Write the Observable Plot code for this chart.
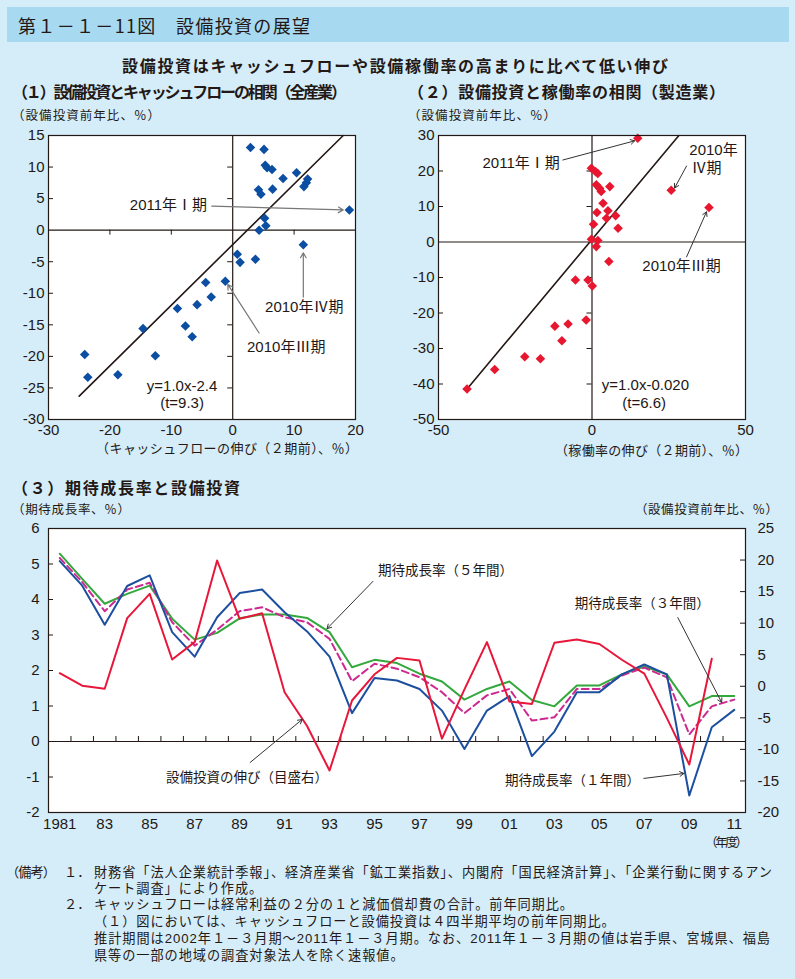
<!DOCTYPE html>
<html><head><meta charset="utf-8">
<script src="https://cdn.jsdelivr.net/npm/d3@7"></script>
<script src="https://cdn.jsdelivr.net/npm/@observablehq/plot@0.6"></script>
<style>
body{margin:0;background:#d5edf9;}
#page{position:relative;width:795px;height:979px;background:#d5edf9;overflow:hidden;font-family:"Noto Sans CJK JP","Liberation Sans",sans-serif;color:#231815;}
.t{position:absolute;white-space:nowrap;line-height:1;}
.chart{position:absolute;}
</style></head><body><div id="page"></div>
<script>
// ---------------- DATA ----------------
// Panel (1): cash-flow growth (2 quarters earlier) vs capex growth
const cfGrowth = [2.9, 5.1, 5.3, 5.6, 6.4, 8.2, 10.4, 12.2, 12.0, 11.6, 4.2, 4.6, 6.5, 19.0, 5.2, 5.4, 4.3, 11.5, 0.75, 1.2, 3.7, -4.4, -1.2, -3.5, -5.8, -9.0, -7.7, -6.6, -14.6, -12.6, -24.1, -23.6, -18.7];
const capex1   = [13.1, 12.8, 10.3, 9.9, 9.6, 8.2, 9.1, 8.1, 7.5, 6.9, 6.4, 5.7, 6.5, 3.2, 1.9, 0.7, 0.0, -2.3, -3.8, -5.1, -4.6, -8.3, -8.1, -10.6, -11.8, -12.4, -15.2, -16.9, -15.6, -19.9, -19.7, -23.3, -22.9];
const reg1X = [-25, 18.0];
const reg1Y = [-26.3, 15];
const p1XTicks = [-30, -20, -10, 0, 10, 20];
const p1YTicks = [15, 10, 5, 0, -5, -10, -15, -20, -25, -30];
const p1Labels = ["2011年Ⅰ期", "2010年Ⅳ期", "2010年Ⅲ期", "y=1.0x-2.4", "(t=9.3)"];
const p1LabelX = [-16.75, 5.27, 2.33, -8.25, -8.25];
const p1LabelY = [3.96, -12.2, -18.5, -24.8, -27.4];
const p1LabelAnchor = ["start", "start", "start", "middle", "middle"];
const p1ArrowX1 = [-3.4, 11.5, 4.3];
const p1ArrowY1 = [3.8, -10.6, -16.3];
const p1ArrowX2 = [18.0, 11.5, -0.8];
const p1ArrowY2 = [3.2, -3.6, -8.6];

// Panel (2): utilisation growth vs capex growth (manufacturing)
const utilGrowth = [14.9, -0.2, 1.2, 1.9, 1.4, 2.5, 3.0, 5.8, 3.6, 1.6, 5.2, 4.7, 7.7, 0.5, 8.5, -0.2, 1.9, 1.4, 5.5, 25.8, 38.1, -5.4, -1.3, 0.1, -12.1, -7.8, -9.8, -1.9, -21.9, -16.8, -31.7, -40.7];
const capex2     = [29.2, 20.8, 19.8, 19.3, 16.1, 15.1, 14.2, 15.6, 10.9, 8.3, 8.8, 6.7, 7.4, 5.0, 3.9, 0.8, 0.4, -1.3, -5.5, 14.6, 9.7, -10.7, -10.7, -12.4, -23.7, -23.1, -27.8, -22.0, -32.3, -32.9, -35.9, -41.4];
const reg2X = [-40.7, 28.3];
const reg2Y = [-41.4, 30];
const p2XTicks = [-50, 0, 50];
const p2YTicks = [30, 20, 10, 0, -10, -20, -30, -40, -50];
const p2Labels = ["2011年Ⅰ期", "2010年", "Ⅳ期", "2010年Ⅲ期", "y=1.0x-0.020", "(t=6.6)"];
const p2LabelX = [-10.5, 31.7, 32.4, 16.4, 17.4, 17.0];
const p2LabelY = [22.3, 25.9, 20.8, -6.8, -40.3, -45.4];
const p2LabelAnchor = ["end", "start", "start", "start", "middle", "middle"];
const p2ArrowX1 = [-9.5, 30.8, 30.8];
const p2ArrowY1 = [23.1, 21.4, -4.2];
const p2ArrowX2 = [13.9, 26.9, 37.3];
const p2ArrowY2 = [28.5, 15.2, 8.5];

// Panel (3): expected growth rates (left axis) and capex growth (right axis)
const years = d3.range(1981, 2012);
const exp5 = [5.29, 4.58, 3.88, 4.16, 4.39, 3.46, 2.87, 3.06, 3.47, 3.58, 3.58, 3.48, 3.08, 2.09, 2.30, 2.21, 1.91, 1.69, 1.18, 1.48, 1.69, 1.17, 0.99, 1.58, 1.58, 1.89, 2.11, 1.89, 0.99, 1.28, 1.28];
const exp3 = [5.17, 4.49, 3.67, 4.28, 4.47, 3.36, 2.70, 3.15, 3.67, 3.78, 3.50, 3.36, 2.89, 1.70, 2.19, 2.05, 1.81, 1.39, 0.80, 1.30, 1.48, 0.59, 0.68, 1.48, 1.48, 1.86, 2.08, 1.81, 0.20, 0.99, 1.18];
const exp1 = [5.08, 4.39, 3.29, 4.38, 4.68, 3.08, 2.39, 3.50, 4.18, 4.28, 3.64, 3.10, 2.39, 0.80, 1.79, 1.72, 1.48, 0.87, -0.21, 0.87, 1.28, -0.41, 0.28, 1.39, 1.39, 1.89, 2.17, 1.89, -1.52, 0.40, 0.89];
const capexGrowth = [2.07, 0.1, -0.4, 10.8, 14.65, 4.24, 6.99, 19.93, 10.69, 11.58, -0.94, -6.3, -13.35, -2.25, 1.9, 4.5, 4.1, -8.3, -0.5, 7.0, -2.4, -2.8, 6.9, 7.4, 6.7, 4.2, 2.0, -5.0, -12.4, 4.35, null];
const p3LeftTicks = [6, 5, 4, 3, 2, 1, 0, -1, -2];
const p3RightTicks = [25, 20, 15, 10, 5, 0, -5, -10, -15, -20];
const p3YearTicks = d3.range(1981, 2012, 2);
const p3Labels = ["期待成長率（５年間）", "期待成長率（３年間）", "期待成長率（１年間）", "設備投資の伸び（目盛右）"];
const p3LabelX = [1995.16, 2003.91, 2000.8, 1985.73];
const p3LabelY = [4.82, 3.89, -1.10, -1.01];
const p3ArrowX1 = [1994.93, 2008.49, 2006.98, 1989.47];
const p3ArrowY1 = [4.51, 3.49, -1.04, -0.59];
const p3ArrowX2 = [1992.89, 2010.44, 2008.76, 1991.78];
const p3ArrowY2 = [3.18, 1.10, -0.90, 0.62];

// ---------------- HELPERS ----------------
const INK = "#231815";
const FONT = '"Liberation Sans","Noto Sans CJK JP",Arial,sans-serif';
const page = document.getElementById("page");

function addText(str, o) {
  const el = document.createElement("div");
  el.className = "t";
  el.textContent = str;
  el.style.fontSize = o.size + "px";
  el.style.fontWeight = o.weight || 400;
  if (o.family) el.style.fontFamily = o.family;
  page.appendChild(el);
  const n = [...str].length;
  if (o.width) {
    const w0 = el.getBoundingClientRect().width;
    el.style.letterSpacing = ((o.width - w0) / Math.max(1, n - 1)) + "px";
  } else if (o.ls != null) {
    el.style.letterSpacing = o.ls;
  }
  const r = el.getBoundingClientRect();
  const w = o.width || r.width;
  let l = o.left;
  if (o.cx != null) l = o.cx - w / 2;
  el.style.left = l + "px";
  el.style.top = (o.cy - r.height / 2) + "px";
  return el;
}
function place(svg, left, top) {
  const d = document.createElement("div");
  d.className = "chart";
  d.style.left = left + "px";
  d.style.top = top + "px";
  d.appendChild(svg);
  page.appendChild(d);
}
const idx = (a) => a.map((_, i) => i);
function labelMarks(labels, xs, ys, anchors, opts) {
  return ["start", "middle", "end"].map(a =>
    Plot.text(idx(labels).filter(i => anchors[i] === a), {x: i => xs[i], y: i => ys[i], text: i => labels[i], textAnchor: a, ...opts}));
}

// ---------------- HEADER & TITLES ----------------
const bar = document.createElement("div");
Object.assign(bar.style, {position: "absolute", left: "7px", top: "7px", width: "782px", height: "35px", background: "#a7d9f1"});
page.appendChild(bar);
addText("第１－１－11図　設備投資の展望", {left: 18, cy: 25, size: 18, width: 292});
addText("設備投資はキャッシュフローや設備稼働率の高まりに比べて低い伸び", {cx: 395, cy: 65, size: 16, weight: 700, width: 546});
addText("（１）設備投資とキャッシュフローの相関（全産業）", {left: 12, cy: 91, size: 16, weight: 700, width: 335});
addText("（２）設備投資と稼働率の相関（製造業）", {left: 408, cy: 91, size: 16, weight: 700, width: 317});
addText("（設備投資前年比、％）", {left: 12, cy: 115, size: 12.5, width: 148});
addText("（設備投資前年比、％）", {left: 408, cy: 115, size: 12.5, width: 148});
addText("（キャッシュフローの伸び（２期前）、％）", {left: 96, cy: 447, size: 13, width: 262});
addText("（稼働率の伸び（２期前）、％）", {left: 555, cy: 449, size: 13, width: 193});
addText("（３）期待成長率と設備投資", {left: 12, cy: 487, size: 16, weight: 700, width: 228});
addText("（期待成長率、％）", {left: 12, cy: 509, size: 12.5, width: 118});
addText("（設備投資前年比、％）", {left: 635, cy: 509, size: 12.5, width: 143});
addText("（年度）", {left: 705, cy: 842, size: 12.5, width: 43});

// ---------------- PANEL 1 ----------------
{
  const W = 400, H = 335, m = {top: 10, right: 45, bottom: 41, left: 48};
  const fw = W - m.left - m.right, fh = H - m.top - m.bottom;
  const xd = [-30, 20], yd = [-30, 15];
  const sx = d3.scaleLinear(xd, [0, fw]), sy = d3.scaleLinear(yd, [fh, 0]);
  const inner = p1YTicks.filter(v => v > yd[0] && v < yd[1] && v !== 0);
  const svg = Plot.plot({
    width: W, height: H, marginTop: m.top, marginRight: m.right, marginBottom: m.bottom, marginLeft: m.left,
    x: {domain: xd}, y: {domain: yd},
    style: {fontFamily: FONT, fontSize: "15px", color: INK, background: "transparent", overflow: "visible"},
    marks: [
      Plot.frame({fill: "white", stroke: null}),
      Plot.tickY(inner, {y: d => d, insetRight: fw - 5, stroke: INK}),
      Plot.tickY(inner, {y: d => d, insetLeft: sx(0) - 5, insetRight: fw - sx(0), stroke: INK}),
      Plot.tickX(p1XTicks.filter(v => v > xd[0] && v < xd[1] && v !== 0), {x: d => d, insetTop: sy(0), insetBottom: fh - sy(0) - 5, stroke: INK}),
      Plot.ruleX([0], {stroke: INK, strokeWidth: 1.2}),
      Plot.ruleY([0], {stroke: INK, strokeWidth: 1.2}),
      Plot.line(idx(reg1X), {x: i => reg1X[i], y: i => reg1Y[i], stroke: INK, strokeWidth: 1.6}),
      Plot.dot(idx(cfGrowth), {x: i => cfGrowth[i], y: i => capex1[i], symbol: "diamond2", r: 4.3, fill: "#0b4ea2", stroke: null}),
      Plot.arrow(idx(p1ArrowX1), {x1: i => p1ArrowX1[i], y1: i => p1ArrowY1[i], x2: i => p1ArrowX2[i], y2: i => p1ArrowY2[i], stroke: "#777", strokeWidth: 1.2, headLength: 7}),
      ...labelMarks(p1Labels, p1LabelX, p1LabelY, p1LabelAnchor, {fill: INK, fontSize: 15}),
      Plot.frame({stroke: INK, strokeWidth: 1.2}),
      Plot.axisX(p1XTicks, {tickSize: 0, tickPadding: 5, tickFormat: d => String(d), label: null, fill: INK}),
      Plot.axisY(p1YTicks, {tickSize: 0, tickPadding: 4, tickFormat: d => String(d), label: null, fill: INK})
    ]
  });
  place(svg, 0, 125);
}

// ---------------- PANEL 2 ----------------
{
  const W = 395, H = 335, m = {top: 10, right: 50, bottom: 41, left: 38};
  const fw = W - m.left - m.right, fh = H - m.top - m.bottom;
  const xd = [-50, 50], yd = [-50, 30];
  const sx = d3.scaleLinear(xd, [0, fw]), sy = d3.scaleLinear(yd, [fh, 0]);
  const inner = p2YTicks.filter(v => v > yd[0] && v < yd[1] && v !== 0);
  const svg = Plot.plot({
    width: W, height: H, marginTop: m.top, marginRight: m.right, marginBottom: m.bottom, marginLeft: m.left,
    x: {domain: xd}, y: {domain: yd},
    style: {fontFamily: FONT, fontSize: "15px", color: INK, background: "transparent", overflow: "visible"},
    marks: [
      Plot.frame({fill: "white", stroke: null}),
      Plot.tickY(inner, {y: d => d, insetRight: fw - 5, stroke: INK}),
      Plot.tickY(inner, {y: d => d, insetLeft: sx(0) - 5, insetRight: fw - sx(0), stroke: INK}),
      Plot.ruleX([0], {stroke: INK, strokeWidth: 1.2}),
      Plot.ruleY([0], {stroke: INK, strokeWidth: 1.2}),
      Plot.line(idx(reg2X), {x: i => reg2X[i], y: i => reg2Y[i], stroke: INK, strokeWidth: 1.6}),
      Plot.dot(idx(utilGrowth), {x: i => utilGrowth[i], y: i => capex2[i], symbol: "diamond2", r: 4.3, fill: "#e8172f", stroke: null}),
      Plot.arrow(idx(p2ArrowX1), {x1: i => p2ArrowX1[i], y1: i => p2ArrowY1[i], x2: i => p2ArrowX2[i], y2: i => p2ArrowY2[i], stroke: "#333", strokeWidth: 1, headLength: 7}),
      ...labelMarks(p2Labels, p2LabelX, p2LabelY, p2LabelAnchor, {fill: INK, fontSize: 15}),
      Plot.frame({stroke: INK, strokeWidth: 1.2}),
      Plot.axisX(p2XTicks, {tickSize: 0, tickPadding: 5, tickFormat: d => String(d), label: null, fill: INK}),
      Plot.axisY(p2YTicks, {tickSize: 0, tickPadding: 4, tickFormat: d => String(d), label: null, fill: INK})
    ]
  });
  place(svg, 400, 125);
}

// ---------------- PANEL 3 ----------------
{
  const W = 795, H = 335, m = {top: 13, right: 50, bottom: 38, left: 48};
  const fw = W - m.left - m.right, fh = H - m.top - m.bottom;
  const xd = [1980.5, 2011.5], yd = [-2, 6];
  const sy = d3.scaleLinear(yd, [fh, 0]);
  // right axis (capex, %) mapped onto the left scale
  const rDomain = [-20, 25];
  const toLeft = d3.scaleLinear(rDomain, yd);
  const fromLeft = toLeft.invert;
  const leftInner = p3LeftTicks.filter(v => v > yd[0] && v < yd[1]);
  const rightInner = p3RightTicks.filter(v => v > rDomain[0] && v < rDomain[1]).map(toLeft);
  const bounds = d3.range(xd[0] + 1, xd[1] - 1 + 0.01, 1);
  const series = [
    {v: exp5, stroke: "#33a83c", dash: null},
    {v: exp3, stroke: "#cc2a90", dash: "7,4"},
    {v: exp1, stroke: "#1c4f9f", dash: null}
  ];
  const svg = Plot.plot({
    width: W, height: H, marginTop: m.top, marginRight: m.right, marginBottom: m.bottom, marginLeft: m.left,
    x: {domain: xd}, y: {domain: yd},
    style: {fontFamily: FONT, fontSize: "15px", color: INK, background: "transparent", overflow: "visible"},
    marks: [
      Plot.frame({fill: "white", stroke: null}),
      Plot.tickY(leftInner, {y: d => d, insetRight: fw - 5, stroke: INK}),
      Plot.tickY(rightInner, {y: d => d, insetLeft: fw - 5, stroke: INK}),
      Plot.tickX(bounds, {x: d => d, insetTop: sy(0) - 5, insetBottom: fh - sy(0), stroke: INK}),
      Plot.ruleY([0], {stroke: INK, strokeWidth: 1.2}),
      ...series.map(s => Plot.line(idx(years), {x: i => years[i], y: i => s.v[i], stroke: s.stroke, strokeWidth: 2, strokeDasharray: s.dash})),
      Plot.line(idx(years), {x: i => years[i], y: i => capexGrowth[i] == null ? NaN : toLeft(capexGrowth[i]), stroke: "#e8173a", strokeWidth: 2}),
      Plot.arrow(idx(p3ArrowX1), {x1: i => p3ArrowX1[i], y1: i => p3ArrowY1[i], x2: i => p3ArrowX2[i], y2: i => p3ArrowY2[i], stroke: "#333", strokeWidth: 1, headLength: 7}),
      Plot.text(idx(p3Labels), {x: i => p3LabelX[i], y: i => p3LabelY[i], text: i => p3Labels[i], textAnchor: "start", fill: INK, fontSize: 13.5, fontFamily: '"Noto Sans CJK JP",sans-serif'}),
      Plot.frame({stroke: INK, strokeWidth: 1.2}),
      Plot.axisX(p3YearTicks, {tickSize: 0, tickPadding: 6, tickFormat: d => d === 1981 ? "1981" : String(d % 100).padStart(2, "0"), label: null, fill: INK}),
      Plot.axisY(p3LeftTicks, {anchor: "left", tickSize: 0, tickPadding: 9, tickFormat: d => String(d), label: null, fill: INK}),
      Plot.axisY(p3RightTicks.map(toLeft), {anchor: "right", tickSize: 0, tickPadding: 12, tickFormat: d => String(Math.round(fromLeft(d))), label: null, fill: INK})
    ]
  });
  place(svg, 0, 515);
}

// ---------------- NOTES ----------------
const NS = 13.2;
const NF = '"Liberation Sans","Noto Sans CJK JP",sans-serif';
addText("（備考）", {left: 6, cy: 873, size: NS, width: 50, family: NF});
addText("１．", {left: 64, cy: 873, size: NS, family: NF});
const l1 = addText("財務省「法人企業統計季報」、経済産業省「鉱工業指数」、内閣府「国民経済計算」、「企業行動に関するアン", {left: 94, cy: 873, size: NS, width: 678, family: NF});
const LS = l1.style.letterSpacing;
addText("ケート調査」により作成。", {left: 94, cy: 889, size: NS, ls: LS, family: NF});
addText("２．", {left: 64, cy: 905, size: NS, family: NF});
addText("キャッシュフローは経常利益の２分の１と減価償却費の合計。前年同期比。", {left: 94, cy: 905, size: NS, ls: LS, family: NF});
addText("（１）図においては、キャッシュフローと設備投資は４四半期平均の前年同期比。", {left: 94, cy: 922, size: NS, ls: LS, family: NF});
addText("推計期間は2002年１－３月期～2011年１－３月期。なお、2011年１－３月期の値は岩手県、宮城県、福島", {left: 94, cy: 939, size: NS, width: 676, family: NF});
addText("県等の一部の地域の調査対象法人を除く速報値。", {left: 94, cy: 956, size: NS, ls: LS, family: NF});
</script>
</body></html>
